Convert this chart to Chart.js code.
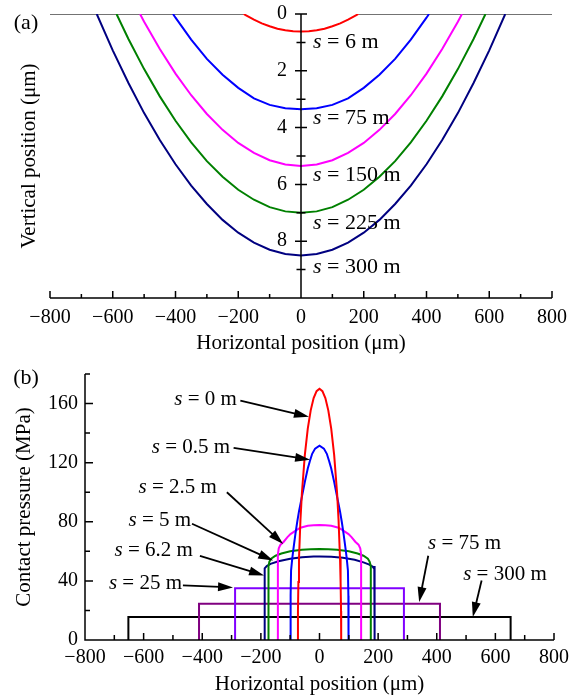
<!DOCTYPE html>
<html>
<head>
<meta charset="utf-8">
<script src="https://cdn.jsdelivr.net/npm/chart.js@4.4.1/dist/chart.umd.min.js"></script>
<style>
  body { margin: 0; background: #fff; }
  #boxA { position: absolute; left: 0; top: 0; width: 578px; height: 355px; }
  #boxB { position: absolute; left: 0; top: 355px; width: 578px; height: 340px; }
</style>
</head>
<body>
<div id="boxA"><canvas id="chartA"></canvas></div>
<div id="boxB"><canvas id="chartB"></canvas></div>
<script>
// (a) wear profiles: horizontal position (um) / depth (um)
const wearX6 = [-183, -175, -150, -125, -100, -75, -50, -25, 0, 25, 50, 75, 100, 125, 150, 175, 183];
const wearY6 = [0, 0.05, 0.20, 0.33, 0.43, 0.52, 0.57, 0.61, 0.62, 0.61, 0.57, 0.52, 0.43, 0.33, 0.20, 0.05, 0];
const wearX75 = [-408, -400, -350, -300, -250, -200, -150, -100, -50, 0, 50, 100, 150, 200, 250, 300, 350, 400, 408];
const wearY75 = [0, 0.13, 0.9, 1.58, 2.14, 2.6, 2.97, 3.2, 3.32, 3.35, 3.32, 3.2, 2.97, 2.6, 2.14, 1.58, 0.9, 0.13, 0];
const wearX150 = [-513, -500, -450, -400, -350, -300, -250, -200, -150, -100, -50, 0, 50, 100, 150, 200, 250, 300, 350, 400, 450, 500, 513];
const wearY150 = [0, 0.27, 1.23, 2.1, 2.86, 3.52, 4.08, 4.54, 4.89, 5.15, 5.3, 5.35, 5.3, 5.15, 4.89, 4.54, 4.08, 3.52, 2.86, 2.1, 1.23, 0.27, 0];
const wearX225 = [-588, -550, -500, -450, -400, -350, -300, -250, -200, -150, -100, -50, 0, 50, 100, 150, 200, 250, 300, 350, 400, 450, 500, 550, 588];
const wearY225 = [0, 0.88, 1.94, 2.9, 3.76, 4.52, 5.18, 5.73, 6.19, 6.54, 6.8, 6.95, 7.0, 6.95, 6.8, 6.54, 6.19, 5.73, 5.18, 4.52, 3.76, 2.9, 1.94, 0.88, 0];
const wearX300 = [-651, -600, -550, -500, -450, -400, -350, -300, -250, -200, -150, -100, -50, 0, 50, 100, 150, 200, 250, 300, 350, 400, 450, 500, 550, 600, 651];
const wearY300 = [0, 1.28, 2.43, 3.49, 4.44, 5.29, 6.04, 6.69, 7.25, 7.7, 8.05, 8.3, 8.45, 8.5, 8.45, 8.3, 8.05, 7.7, 7.25, 6.69, 6.04, 5.29, 4.44, 3.49, 2.43, 1.28, 0];
const surfLeftX = [-800, -183];
const surfRightX = [183, 800];
const surfY = [0, 0];
const wearLabels = ['s = 6 m', 's = 75 m', 's = 150 m', 's = 225 m', 's = 300 m'];
const wearLabelY = [1.0, 3.66, 5.67, 7.38, 8.9];

// (b) contact pressure: horizontal position (um) / pressure (MPa)
const presX0 = [-74, -73.5, -72, -70, -65, -60, -50, -40, -30, -20, -10, 0, 10, 20, 30, 40, 50, 60, 65, 70, 72, 73.5, 74];
const presY0 = [0, 19.7, 39.2, 55.1, 81.2, 99.5, 125.3, 143, 155.4, 163.7, 168.4, 170, 168.4, 163.7, 155.4, 143, 125.3, 99.5, 81.2, 55.1, 39.2, 19.7, 0];
const presX05 = [-99, -98.5, -97, -93, -90, -86, -82, -76, -70, -62, -55, -50, -40, -33, -25, -15, 0, 15, 25, 33, 40, 50, 55, 62, 70, 76, 82, 86, 90, 93, 97, 98.5, 99];
const presY05 = [0, 30, 47, 55, 60, 66, 72, 80, 87, 95, 102, 107, 116, 121, 126, 129.5, 131.5, 129.5, 126, 121, 116, 107, 102, 95, 87, 80, 72, 66, 60, 55, 47, 30, 0];
const presX25 = [-142, -142, -139, -133, -122, -110, -99, -80, -65, -40, -20, 0, 20, 40, 65, 80, 99, 110, 122, 133, 139, 142, 142];
const presY25 = [0, 58, 62, 64.5, 66.5, 69.5, 71.7, 74.2, 76, 77.3, 77.7, 77.8, 77.7, 77.3, 76, 74.2, 71.7, 69.5, 66.5, 64.5, 62, 58, 0];
const presX5 = [-174, -174, -171, -165, -150, -130, -100, -60, -30, 0, 30, 60, 100, 130, 150, 165, 171, 175, 175];
const presY5 = [0, 50, 53, 55, 57, 58.5, 60, 61, 61.4, 61.5, 61.4, 61, 60, 58.5, 57, 55, 53, 50, 0];
const presX62 = [-188, -188, -186, -180, -167, -140, -100, -60, -20, 0, 40, 80, 120, 150, 170, 182, 187, 188, 188];
const presY62 = [0, 46, 48.5, 50, 51.5, 53.3, 55, 56, 56.5, 56.5, 56.3, 55.6, 54.3, 52.5, 51, 49.5, 48, 50, 0];
const presX25m = [-288, -288, 288, 288];
const presY25m = [0, 35, 35, 0];
const presX75m = [-411, -411, 411, 411];
const presY75m = [0, 24.5, 24.5, 0];
const presX300m = [-652, -652, 652, 652];
const presY300m = [0, 15.5, 15.5, 0];
const presLabels = ['s = 0 m', 's = 0.5 m', 's = 2.5 m', 's = 5 m', 's = 6.2 m', 's = 25 m', 's = 75 m', 's = 300 m'];

// label anchor and arrow (from -> tip) in data units, for panel (b)
const presNotes = [
  { text: 0, at: [-282, 163], align: 'right', from: [-270, 162], to: [-36, 151] },
  { text: 1, at: [-305, 130], align: 'right', from: [-293, 130], to: [-32, 122] },
  { text: 2, at: [-350, 103], align: 'right', from: [-316, 100], to: [-124, 65] },
  { text: 3, at: [-438, 80.7], align: 'right', from: [-435, 78.7], to: [-158, 53.8] },
  { text: 4, at: [-432, 60.5], align: 'right', from: [-408, 57], to: [-189, 43.7] },
  { text: 5, at: [-469, 38.3], align: 'right', from: [-466, 37], to: [-295, 35.6] },
  { text: 6, at: [370, 65.2], align: 'left', from: [371, 57], to: [340, 25.7] },
  { text: 7, at: [490, 44.4], align: 'left', from: [553, 40.3], to: [523, 15.5] }
];

Chart.defaults.font.family = '"Liberation Serif", "Times New Roman", serif';
Chart.defaults.color = '#000';
const SERIF = '"Liberation Serif", "Times New Roman", serif';

function pts(xs, ys) {
  return xs.map((x, i) => ({ x: x, y: ys[i] }));
}
function series(xs, ys, color, width) {
  return {
    data: pts(xs, ys), borderColor: color, borderWidth: width || 2,
    showLine: true, pointRadius: 0, pointHoverRadius: 0, fill: false, tension: 0
  };
}
function minus(v) {
  return v < 0 ? '\u2212' + Math.abs(v) : String(v);
}

// italic "s" followed by upright rest
function drawNote(ctx, text, px, py, align, size) {
  const rest = text.slice(1);
  ctx.font = 'italic ' + size + 'px ' + SERIF;
  const w1 = ctx.measureText('s').width;
  ctx.font = size + 'px ' + SERIF;
  const w2 = ctx.measureText(rest).width;
  const x0 = align === 'right' ? px - w1 - w2 : px;
  ctx.textAlign = 'left';
  ctx.textBaseline = 'middle';
  ctx.fillStyle = '#000';
  ctx.font = 'italic ' + size + 'px ' + SERIF;
  ctx.fillText('s', x0, py);
  ctx.font = size + 'px ' + SERIF;
  ctx.fillText(rest, x0 + w1, py);
}

function drawArrow(ctx, x1, y1, x2, y2) {
  const a = Math.atan2(y2 - y1, x2 - x1);
  const head = 15, half = 4.5;
  const bx = x2 - head * Math.cos(a), by = y2 - head * Math.sin(a);
  ctx.strokeStyle = '#000';
  ctx.fillStyle = '#000';
  ctx.lineWidth = 1.8;
  ctx.beginPath();
  ctx.moveTo(x1, y1);
  ctx.lineTo(bx + 2 * Math.cos(a), by + 2 * Math.sin(a));
  ctx.stroke();
  ctx.beginPath();
  ctx.moveTo(x2, y2);
  ctx.lineTo(bx + half * Math.sin(a), by - half * Math.cos(a));
  ctx.lineTo(bx - half * Math.sin(a), by + half * Math.cos(a));
  ctx.closePath();
  ctx.fill();
}

const axesA = {
  id: 'axesA',
  afterDatasetsDraw(chart) {
    const ctx = chart.ctx, xs = chart.scales.x, ys = chart.scales.y;
    const x0 = xs.getPixelForValue(0);
    const yTop = ys.getPixelForValue(0), yBot = ys.getPixelForValue(10);
    ctx.save();
    ctx.strokeStyle = '#000';
    ctx.lineWidth = 1.5;
    ctx.beginPath();
    ctx.moveTo(xs.getPixelForValue(-800), yBot);
    ctx.lineTo(xs.getPixelForValue(800), yBot);
    ctx.moveTo(x0, yTop);
    ctx.lineTo(x0, yBot);
    for (let v = -800; v <= 800; v += 100) {
      const p = xs.getPixelForValue(v);
      const l = v % 200 === 0 ? 7 : 4;
      ctx.moveTo(p, yBot);
      ctx.lineTo(p, yBot - l);
    }
    for (let v = 0; v < 10; v += 1) {
      const p = ys.getPixelForValue(v);
      const l = v % 2 === 0 ? 6 : 4.5;
      ctx.moveTo(x0 - l, p);
      ctx.lineTo(x0 + l, p);
    }
    ctx.stroke();
    wearLabels.forEach((t, i) => {
      drawNote(ctx, t, xs.getPixelForValue(38), ys.getPixelForValue(wearLabelY[i]), 'left', 22);
    });
    ctx.font = '22px ' + SERIF;
    ctx.textAlign = 'center';
    ctx.textBaseline = 'middle';
    ctx.fillText('(a)', 26, 23);
    ctx.restore();
  }
};

const axesB = {
  id: 'axesB',
  afterDatasetsDraw(chart) {
    const ctx = chart.ctx, xs = chart.scales.x, ys = chart.scales.y;
    const xL = xs.getPixelForValue(-800), xR = xs.getPixelForValue(800);
    const y0 = ys.getPixelForValue(0), yT = ys.getPixelForValue(180);
    ctx.save();
    ctx.strokeStyle = '#000';
    ctx.lineWidth = 1.5;
    ctx.beginPath();
    ctx.moveTo(xL, yT);
    ctx.lineTo(xL, y0);
    ctx.lineTo(xR, y0);
    for (let v = -800; v <= 800; v += 100) {
      const p = xs.getPixelForValue(v);
      const l = v % 200 === 0 ? 7 : 5;
      ctx.moveTo(p, y0);
      ctx.lineTo(p, y0 - l);
    }
    for (let v = 0; v <= 180; v += 20) {
      const p = ys.getPixelForValue(v);
      const l = v % 40 === 0 ? 8 : 5;
      ctx.moveTo(xL, p);
      ctx.lineTo(xL + l, p);
    }
    ctx.stroke();
    presNotes.forEach(n => {
      drawArrow(ctx, xs.getPixelForValue(n.from[0]), ys.getPixelForValue(n.from[1]),
        xs.getPixelForValue(n.to[0]), ys.getPixelForValue(n.to[1]));
      drawNote(ctx, presLabels[n.text], xs.getPixelForValue(n.at[0]), ys.getPixelForValue(n.at[1]), n.align, 21);
    });
    ctx.font = '22px ' + SERIF;
    ctx.textAlign = 'center';
    ctx.textBaseline = 'middle';
    ctx.fillText('(b)', 26, 23);
    ctx.restore();
  }
};

const common = {
  responsive: true,
  maintainAspectRatio: false,
  animation: false,
  devicePixelRatio: 1,
  plugins: { legend: { display: false }, tooltip: { enabled: false } }
};

new Chart(document.getElementById('chartA'), {
  type: 'scatter',
  data: {
    datasets: [
      series(wearX6, wearY6, '#ff0000'),
      series(wearX75, wearY75, '#0000ff'),
      series(wearX150, wearY150, '#ff00ff'),
      series(wearX225, wearY225, '#008000'),
      series(wearX300, wearY300, '#000080'),
      series(surfLeftX, surfY, '#444444', 1.5),
      series(surfRightX, surfY, '#444444', 1.5)
    ]
  },
  options: Object.assign({}, common, {
    layout: { padding: { left: 0, right: 26, top: 14, bottom: 0 } },
    scales: {
      x: {
        type: 'linear', position: 'bottom', min: -800, max: 800,
        grid: { display: false, drawTicks: false }, border: { display: false },
        ticks: { stepSize: 200, autoSkip: false, maxRotation: 0, padding: 8, font: { size: 20 }, callback: minus },
        title: { display: true, text: 'Horizontal position (\u03bcm)', font: { size: 21, lineHeight: 1.1 }, padding: { top: 0, bottom: 0 } },
        afterFit: s => { s.height = 57; }
      },
      y: {
        type: 'linear', position: { x: -45 }, min: 0, max: 10, reverse: true,
        grid: { display: false, drawTicks: false }, border: { display: false },
        ticks: { stepSize: 2, padding: 0, font: { size: 20 }, callback: v => (v < 10 ? String(v) : '') }
      },
      yTitle: {
        type: 'linear', position: 'left', min: 0, max: 10, reverse: true,
        grid: { display: false, drawTicks: false }, border: { display: false },
        ticks: { display: false },
        title: { display: true, text: 'Vertical position (\u03bcm)', font: { size: 21 }, padding: { top: 17, bottom: 0 } },
        afterFit: s => { s.width = 50; }
      }
    }
  }),
  plugins: [axesA]
});

new Chart(document.getElementById('chartB'), {
  type: 'scatter',
  data: {
    datasets: [
      series(presX0, presY0, '#ff0000'),
      series(presX05, presY05, '#0000ff'),
      series(presX25, presY25, '#ff00ff'),
      series(presX5, presY5, '#008000'),
      series(presX62, presY62, '#000080'),
      series(presX25m, presY25m, '#8000ff'),
      series(presX75m, presY75m, '#800080'),
      series(presX300m, presY300m, '#000000')
    ]
  },
  options: Object.assign({}, common, {
    layout: { padding: { left: 0, right: 24, top: 17, bottom: 0 } },
    scales: {
      x: {
        type: 'linear', position: 'bottom', min: -800, max: 800,
        grid: { display: false, drawTicks: false }, border: { display: false },
        ticks: { stepSize: 200, autoSkip: false, maxRotation: 0, padding: 6, font: { size: 20 }, callback: minus },
        title: { display: true, text: 'Horizontal position (\u03bcm)', font: { size: 21, lineHeight: 1.0 }, padding: { top: 0, bottom: 0 } },
        afterFit: s => { s.height = 55; }
      },
      y: {
        type: 'linear', position: 'left', min: 0, max: 180,
        grid: { display: false, drawTicks: false }, border: { display: false },
        ticks: { stepSize: 40, padding: 7, font: { size: 20 }, callback: v => (v <= 160 ? String(v) : '') },
        title: { display: true, text: 'Contact pressure (MPa)', font: { size: 21 }, padding: { top: 12, bottom: 0 } },
        afterFit: s => { s.width = 85; }
      }
    }
  }),
  plugins: [axesB]
});
</script>
</body>
</html>
